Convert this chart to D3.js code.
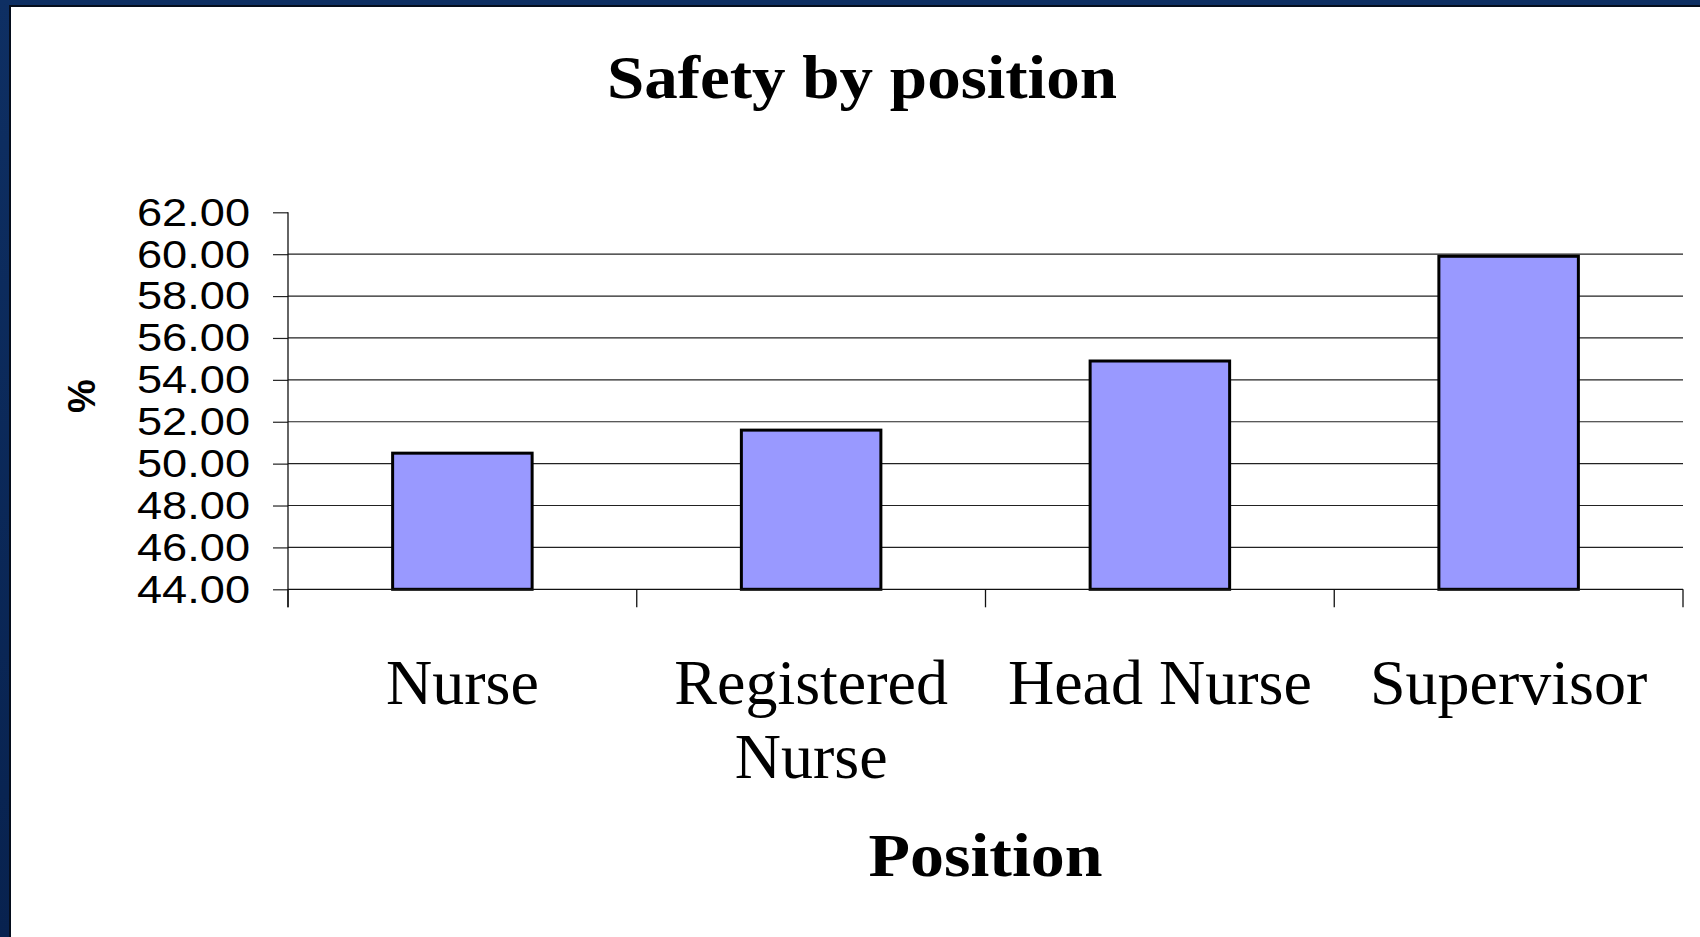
<!DOCTYPE html>
<html>
<head>
<meta charset="utf-8">
<title>Safety by position</title>
<script src="https://cdn.jsdelivr.net/npm/d3@7"></script>
<style>
  html, body { margin: 0; padding: 0; background: #0b2858; }
  svg { display: block; }
</style>
</head>
<body>
<div id="chart"></div>
<script>
/* DATA */
const categories = ["Nurse", "Registered Nurse", "Head Nurse", "Supervisor"];
const safetyValues = [50.5, 51.6, 54.9, 59.9];
const yTicks = [44, 46, 48, 50, 52, 54, 56, 58, 60, 62];

/* LAYOUT */
const W = 1700, H = 937;
const margin = { top: 212.3, right: 17, bottom: 347.7, left: 288 };
const width = W - margin.left - margin.right;
const height = H - margin.top - margin.bottom;

const svg = d3.select("#chart").append("svg")
  .attr("width", W)
  .attr("height", H);

// slide background: dark blue frame, white panel
const defs = svg.append("defs");
const grad = defs.append("linearGradient").attr("id", "frame")
  .attr("x1", 0).attr("y1", 0).attr("x2", 0).attr("y2", 1);
grad.append("stop").attr("offset", "0%").attr("stop-color", "#0e2f63");
grad.append("stop").attr("offset", "100%").attr("stop-color", "#08224f");
svg.append("rect").attr("width", W).attr("height", H).attr("fill", "url(#frame)");
svg.append("rect")
  .attr("x", 10).attr("y", 6)
  .attr("width", W).attr("height", H)
  .attr("fill", "#fff")
  .attr("stroke", "#050d1c")
  .attr("stroke-width", 2);

const g = svg.append("g").attr("transform", `translate(${margin.left},${margin.top})`);

/* SCALES */
const x = d3.scaleBand()
  .domain(categories)
  .range([0, width])
  .paddingInner(0.6)
  .paddingOuter(0.3);

const y = d3.scaleLinear()
  .domain([d3.min(yTicks), d3.max(yTicks)])
  .range([height, 0]);

/* GRIDLINES (none on the top value) */
g.append("g")
  .selectAll("line")
  .data(yTicks.filter((v) => v > y.domain()[0] && v < y.domain()[1]))
  .enter()
  .append("line")
  .attr("x1", 0).attr("x2", width)
  .attr("y1", (d) => y(d)).attr("y2", (d) => y(d))
  .attr("stroke", "#222")
  .attr("stroke-width", 1.2);

/* BARS */
g.append("g")
  .selectAll("rect")
  .data(categories)
  .enter()
  .append("rect")
  .attr("x", (d) => x(d))
  .attr("y", (d, i) => y(safetyValues[i]))
  .attr("width", x.bandwidth())
  .attr("height", (d, i) => height - y(safetyValues[i]))
  .attr("fill", "#9999ff")
  .attr("stroke", "#000")
  .attr("stroke-width", 3);

/* Y AXIS */
const yAxis = g.append("g")
  .call(d3.axisLeft(y).tickValues(yTicks).tickSize(15).tickPadding(23).tickFormat(d3.format(".2f")));
yAxis.select(".domain").remove();
yAxis.selectAll(".tick line").attr("stroke", "#222").attr("stroke-width", 1.2);
yAxis.selectAll(".tick text")
  .attr("font-family", "'Liberation Sans', Arial, sans-serif")
  .attr("font-size", 38)
  .attr("fill", "#000")
  .attr("dy", "0.34em")
  .attr("textLength", 113)
  .attr("lengthAdjust", "spacingAndGlyphs");

/* X AXIS with ticks on band edges */
const xAxis = g.append("g").attr("transform", `translate(0,${height})`);
xAxis.append("line")
  .attr("x1", 0).attr("x2", width)
  .attr("stroke", "#111").attr("stroke-width", 1.3);
xAxis.selectAll(".edge")
  .data(d3.range(categories.length + 1))
  .enter()
  .append("line")
  .attr("class", "edge")
  .attr("x1", (i) => i * x.step()).attr("x2", (i) => i * x.step())
  .attr("y1", 0).attr("y2", 18)
  .attr("stroke", "#111").attr("stroke-width", 1.3);

// vertical axis line (runs down to the x tick length)
g.append("line")
  .attr("x1", 0).attr("x2", 0)
  .attr("y1", 0).attr("y2", height + 18)
  .attr("stroke", "#111").attr("stroke-width", 1.3);

// category labels, wrapped when wider than a band step
const catLabels = xAxis.selectAll(".cat")
  .data(categories)
  .enter()
  .append("text")
  .attr("class", "cat")
  .attr("x", (d) => x(d) + x.bandwidth() / 2)
  .attr("y", 115)
  .attr("text-anchor", "middle")
  .attr("font-family", "'Liberation Serif', 'Times New Roman', serif")
  .attr("font-size", 64)
  .attr("fill", "#000")
  .text((d) => d);

catLabels.each(function (d) {
  const t = d3.select(this);
  if (this.getComputedTextLength() > x.step()) {
    const words = d.split(" ");
    const cx = t.attr("x");
    t.text(null);
    words.forEach((w, i) => {
      t.append("tspan").attr("x", cx).attr("dy", i === 0 ? 0 : 74).text(w);
    });
  }
});

/* TITLES */
svg.append("text")
  .attr("x", 862).attr("y", 98)
  .attr("text-anchor", "middle")
  .attr("font-family", "'Liberation Serif', 'Times New Roman', serif")
  .attr("font-weight", "bold")
  .attr("font-size", 62)
  .attr("textLength", 510)
  .attr("lengthAdjust", "spacingAndGlyphs")
  .text("Safety by position");

svg.append("text")
  .attr("x", margin.left + width / 2).attr("y", 876)
  .attr("text-anchor", "middle")
  .attr("font-family", "'Liberation Serif', 'Times New Roman', serif")
  .attr("font-weight", "bold")
  .attr("font-size", 62)
  .attr("textLength", 234)
  .attr("lengthAdjust", "spacingAndGlyphs")
  .text("Position");

svg.append("text")
  .attr("transform", "translate(82,396) rotate(-90)")
  .attr("text-anchor", "middle")
  .attr("dominant-baseline", "central")
  .attr("font-family", "'Liberation Sans', Arial, sans-serif")
  .attr("font-weight", "bold")
  .attr("font-size", 38)
  .text("%");
</script>
</body>
</html>
